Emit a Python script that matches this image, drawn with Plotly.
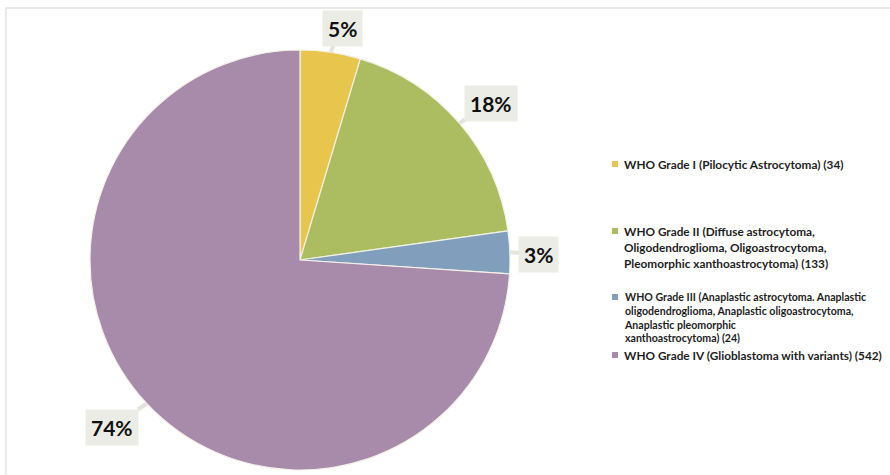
import math
import plotly.graph_objects as go

# Glioma cases by WHO grade
grades = ["WHO Grade I", "WHO Grade II", "WHO Grade III", "WHO Grade IV"]
counts = [34, 133, 24, 542]
pct_labels = ["5%", "18%", "3%", "74%"]
legend_lines = [
    ["WHO Grade I (Pilocytic Astrocytoma) (34)"],
    ["WHO Grade II (Diffuse astrocytoma,",
     "Oligodendroglioma, Oligoastrocytoma,",
     "Pleomorphic xanthoastrocytoma) (133)"],
    ["WHO Grade III (Anaplastic astrocytoma. Anaplastic",
     "oligodendroglioma, Anaplastic oligoastrocytoma,",
     "Anaplastic pleomorphic",
     "xanthoastrocytoma) (24)"],
    ["WHO Grade IV (Glioblastoma with variants) (542)"],
]
colors = ["#E8C54C", "#ABBD60", "#819EBD", "#A88AAA"]

W, H = 890, 475
cx, cy, r = 300, 260, 210  # pie centre and radius in pixels

fig = go.Figure(go.Pie(
    labels=grades,
    values=counts,
    sort=False,
    direction="clockwise",
    rotation=0,
    textinfo="none",
    hoverinfo="label+value+percent",
    marker=dict(colors=colors, line=dict(color="#F4F1E6", width=1.2)),
    domain=dict(x=[(cx - r) / W, (cx + r) / W],
                y=[1 - (cy + r) / H, 1 - (cy - r) / H]),
    showlegend=False,
))

# Callout labels: arrow tip at the slice's mid-angle on the rim
label_offsets = [(12, -24), (32, -20), (29, 2), (-35, 24)]
total = sum(counts)
cum = 0
annotations = []
for v, txt, (ox, oy) in zip(counts, pct_labels, label_offsets):
    mid = (cum + v / 2) / total * 2 * math.pi
    cum += v
    px = cx + r * math.sin(mid)
    py = cy - r * math.cos(mid)
    annotations.append(dict(
        x=px / W, y=1 - py / H, xref="paper", yref="paper",
        text=f"<b>{txt}</b>", showarrow=True, arrowhead=0,
        arrowwidth=4, arrowcolor="#E4E4DC",
        ax=ox, ay=oy, standoff=0,
        font=dict(family="Lato", size=21, color="#111111"),
        bgcolor="#ECECE6", borderpad=5,
    ))

# Custom legend: marker square plus text block per grade
legend_tops = [164, 231, 297, 355]
legend_sizes = [11.8, 11.8, 10.6, 11.8]
shapes = []
for k, (col, lines, top, fs) in enumerate(
        zip(colors, legend_lines, legend_tops, legend_sizes)):
    shapes.append(dict(type="rect", xref="paper", yref="paper",
                       x0=612 / W, x1=618 / W,
                       y0=1 - (top + 3) / H, y1=1 - (top - 3) / H,
                       fillcolor=col, line=dict(width=0)))
    if k == 1:
        # wider line spacing for this entry
        for i, ln in enumerate(lines):
            annotations.append(dict(
                x=622 / W, y=1 - (top + i * 16) / H,
                xref="paper", yref="paper", xanchor="left", yanchor="middle",
                text=f"<b>{ln}</b>", showarrow=False,
                font=dict(family="Lato", size=fs, color="#1E1E1E"),
            ))
    else:
        block_top = top - 1 - 0.65 * fs
        annotations.append(dict(
            x=622 / W, y=1 - block_top / H,
            xref="paper", yref="paper", xanchor="left", yanchor="top",
            align="left",
            text="<br>".join(f"<b>{ln}</b>" for ln in lines),
            showarrow=False,
            font=dict(family="Lato", size=fs, color="#1E1E1E"),
        ))

# Thin frame around the chart area
shapes.append(dict(type="rect", xref="paper", yref="paper",
                   x0=6 / W, x1=1.02, y0=-0.02, y1=1 - 8 / H,
                   line=dict(color="#E2E2E2", width=1.5),
                   fillcolor="rgba(0,0,0,0)", layer="below"))

fig.update_layout(
    width=W, height=H,
    margin=dict(l=0, r=0, t=0, b=0),
    paper_bgcolor="white", plot_bgcolor="white",
    annotations=annotations, shapes=shapes,
)

fig.write_html("out.html")
